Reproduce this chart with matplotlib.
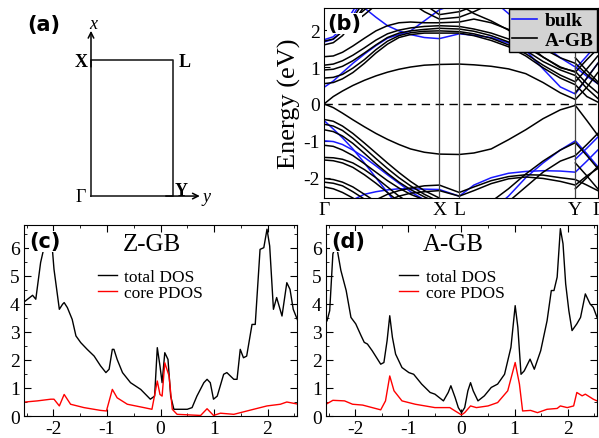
import numpy as np
import matplotlib.pyplot as plt
from matplotlib.lines import Line2D

plt.rcParams['font.family'] = ['Liberation Serif', 'DejaVu Serif']
plt.rcParams['axes.unicode_minus'] = False

# ---------------- band structure along G-X-L-Y-G ----------------
k_nodes = [0, 0.08, 0.16, 0.25, 0.35, 0.45, 0.55, 0.65, 0.75, 0.87, 1.0,
           1.173, 1.3, 1.45, 1.6, 1.75, 1.9, 2.05, 2.18, 2.28, 2.375]
k_ticks = [0, 1.0, 1.173, 2.18, 2.375]
k_labels = ['Γ', 'X', 'L', 'Y', 'Γ']

N = None
agb_conduction = [
    [0, 0.2, 0.35, 0.5, 0.64, 0.76, 0.86, 0.94, 1.0, 1.05, 1.07, 1.08, 1.06, 1.02, 0.95, 0.82, 0.58, 0.3, 0.12, 0.45, 0.85],
    [0.55, 0.58, 0.68, 0.85, 1.1, 1.38, 1.62, 1.8, 1.88, 1.92, 1.92, 1.92, 1.85, 1.72, 1.55, 1.3, 0.98, 0.7, 0.52, 0.2, 0.05],
    [0.7, 0.72, 0.8, 0.97, 1.2, 1.47, 1.7, 1.85, 1.93, 1.97, 1.98, 1.96, 1.9, 1.78, 1.6, 1.36, 1.05, 0.78, 0.6, 0.95, 1.3],
    [0.92, 0.94, 1.02, 1.17, 1.38, 1.6, 1.8, 1.92, 1.98, 2.02, 2.05, 2.03, 1.97, 1.85, 1.68, 1.45, 1.15, 0.92, 0.77, 0.42, 0.15],
    [1.05, 1.08, 1.17, 1.32, 1.52, 1.73, 1.9, 2.0, 2.06, 2.1, 2.12, 2.1, 2.03, 1.92, 1.76, 1.55, 1.27, 1.0, 0.86, 1.2, 1.5],
    [1.28, 1.3, 1.4, 1.57, 1.78, 1.98, 2.12, 2.2, 2.22, 2.2, 2.2, 2.22, 2.3, 2.2, 2.02, 1.78, 1.5, 1.25, 1.1, 0.8, 0.55],
    [1.6, 1.66, 1.85, 2.2, 2.65, 3.1] + [N] * 15,
    [1.7, 1.76, 1.96, 2.32, 2.8] + [N] * 16,
    [N, N, 2.05, 2.28, 2.55, 2.8] + [N] * 15,
    [N, N, N, 2.18, 2.42, 2.68] + [N] * 15,
    [N] * 8 + [2.75, 2.5, 2.3, 2.35, 2.5, 2.72] + [N] * 7,
    [N] * 9 + [2.7, 2.42, 2.5, 2.65, 2.85] + [N] * 7,
    [N] * 11 + [2.7, 2.45, 2.25, 2.0, 1.65, 1.27, 0.98, 0.88, 0.55, 0.3],
    [N] * 18 + [0.3, 0.7, 1.1],
    [N] * 18 + [1.25, 0.9, 0.6],
]
agb_valence = [
    [0, -0.1, -0.25, -0.43, -0.62, -0.8, -0.96, -1.1, -1.22, -1.31, -1.36, -1.37, -1.33, -1.22, -0.97, -0.7, -0.4, -0.16, -0.04, -0.45, -0.85],
    [-0.42, -0.47, -0.6, -0.8, -1.06, -1.33, -1.6, -1.86, -2.1, -2.35, -2.55] + [N] * 10,
    [-0.55, -0.6, -0.72, -0.93, -1.2, -1.48, -1.75, -2.0, -2.22, -2.45, -2.65] + [N] * 10,
    [-0.7, -0.75, -0.87, -1.07, -1.34, -1.62, -1.88, -2.12, -2.32, -2.52, -2.7] + [N] * 10,
    [-1.12, -1.15, -1.25, -1.4, -1.62, -1.85, -2.08, -2.28, -2.45, -2.6, -2.75] + [N] * 10,
    [-1.45, -1.46, -1.5, -1.6, -1.78, -2.0, -2.25, -2.5, -2.7] + [N] * 12,
    [-1.52, -1.54, -1.6, -1.72, -1.92, -2.15, -2.4, -2.65] + [N] * 13,
    [-2.02, -2.05, -2.12, -2.25, -2.45, -2.65] + [N] * 15,
    [-2.12, -2.15, -2.22, -2.38, -2.58] + [N] * 16,
    [-2.25, -2.3, -2.4, -2.55, -2.75] + [N] * 16,
    [N] * 5 + [-2.6, -2.45, -2.35, -2.28, -2.22, -2.2, -2.4, -2.25, -2.08, -1.97, -1.92, -1.93, -2.0, -2.05, -2.2, -2.35],
    [N] * 6 + [-2.62, -2.5, -2.42, -2.38, -2.35, -2.5, -2.35, -2.16, -2.03, -1.98, -2.02, -2.1, -2.2, -1.95, -1.75],
    [N] * 13 + [-2.65, -2.3, -1.9, -1.55, -1.25, -1.05, -1.4, -1.75],
    [N] * 14 + [-2.65, -2.25, -1.85, -1.55, -1.4, -1.1, -0.8],
    [N] * 18 + [-1.6, -1.95, -2.3],
    [N] * 18 + [-2.3, -2.0, -1.7],
]
bulk_conduction = [
    [0.45, 0.62, 0.85, 1.1, 1.35, 1.58, 1.78, 1.88, 1.98, 2.25, 2.55, 2.75] + [N] * 9,
    [N] * 4 + [2.6, 2.35, 2.12, 1.98, 1.88, 1.8, 1.77, 1.9, 1.86, 1.8, 1.65, 1.45, 0.95, 0.46, 0.27, 0.7, 1.1],
    [N] * 13 + [2.85, 2.45, 2.05, 1.6, 1.25, 1.0, 0.75, 0.55],
    [1.68, 1.75, 1.98, 2.4, 2.9] + [N] * 16,
    [1.74, 1.82, 2.07, 2.52, 3.0] + [N] * 16,
    [N] * 18 + [0.95, 1.3, 1.65],
]
bulk_valence = [
    [-0.45, -0.68, -0.92, -1.22, -1.6, -2.0, -2.4, -2.8] + [N] * 13,
    [-1.0, -1.02, -1.1, -1.25, -1.45, -1.68, -1.92, -2.15, -2.38, -2.6, -2.8] + [N] * 10,
    [N] * 3 + [-2.6, -2.45, -2.38, -2.33, -2.3, -2.3, -2.31, -2.32, -2.5, -2.2, -2.0, -1.88, -1.83, -1.81, -1.82, -1.85, -1.55, -1.25],
    [N] * 13 + [-2.9, -2.5, -2.0, -1.6, -1.25, -1.0, -1.35, -1.7],
    [N] * 18 + [-1.5, -1.2, -0.9],
]

# ---------------- densities of states ----------------
zgb_total_e = [-2.53, -2.39, -2.33, -2.24, -2.17, -2.08, -2.02, -1.99, -1.89, -1.83, -1.8, -1.74, -1.65,
               -1.58, -1.49, -1.37, -1.24, -1.12, -1.02, -0.96, -0.9, -0.87, -0.81, -0.71, -0.56, -0.37,
               -0.19, -0.11, -0.06, -0.01, 0.03, 0.08, 0.14, 0.19, 0.25, 0.5, 0.59, 0.68, 0.81, 0.87, 0.93,
               0.99, 1.06, 1.18, 1.24, 1.37, 1.43, 1.49, 1.55, 1.61, 1.71, 1.77, 1.86, 1.93, 1.99, 2.04,
               2.11, 2.17, 2.27, 2.36, 2.42, 2.48, 2.58]
zgb_total_dos = [4.1, 4.31, 4.17, 5.48, 6.07, 6.19, 5.95, 5.24, 3.81, 3.99, 4.05, 3.87, 3.45,
                 2.86, 2.62, 2.38, 2.14, 1.79, 1.55, 1.67, 2.38, 2.38, 2.02, 1.55, 1.19, 0.95,
                 0.6, 0.71, 2.44, 1.79, 1.19, 2.26, 2.02, 0.71, 0.24, 0.24, 0.3, 0.71, 1.19, 1.31, 1.19,
                 0.6, 0.71, 1.49, 1.55, 1.31, 1.31, 2.38, 2.08, 2.14, 3.27, 3.27, 5.95, 6.01, 6.67, 6.07,
                 3.81, 4.23, 3.57, 4.76, 4.52, 3.81, 3.33]
zgb_core_e = [-2.53, -2.3, -2.05, -1.99, -1.89, -1.8, -1.68, -1.43, -1.12, -1.01, -0.9, -0.81, -0.62,
              -0.31, -0.16, -0.06, -0.01, 0.03, 0.08, 0.16, 0.22, 0.31, 0.75, 0.87, 0.99, 1.12, 1.37,
              1.74, 1.99, 2.24, 2.36, 2.58]
zgb_core_dos = [0.5, 0.54, 0.6, 0.6, 0.36, 0.77, 0.42, 0.3, 0.2, 0.18, 0.95, 0.65, 0.42,
                0.3, 0.24, 1.25, 0.77, 0.71, 1.9, 1.43, 0.24, 0.06, 0.02, 0.26, 0.02, 0.1, 0.06,
                0.24, 0.36, 0.42, 0.5, 0.42]

agb_total_e = [-2.53, -2.48, -2.42, -2.37, -2.33, -2.27, -2.17, -2.08, -1.99, -1.89, -1.83, -1.77, -1.68,
               -1.52, -1.46, -1.4, -1.35, -1.3, -1.24, -1.12, -0.99, -0.9, -0.75, -0.59, -0.5, -0.34,
               -0.25, -0.2, -0.12, -0.06, 0, 0.06, 0.12, 0.17, 0.22, 0.31, 0.43, 0.56, 0.68, 0.81, 0.93,
               1.01, 1.06, 1.12, 1.18, 1.29, 1.37, 1.49, 1.61, 1.69, 1.74, 1.8, 1.86, 1.91, 1.96, 2.02,
               2.08, 2.17, 2.24, 2.33, 2.42, 2.48, 2.55]
agb_total_dos = [3.4, 3.76, 5.79, 6.03, 5.85, 5.2, 4.48, 3.52, 3.29, 2.87, 2.63, 2.57, 2.33,
                 1.85, 1.91, 2.69, 3.58, 2.81, 2.21, 1.73, 1.55, 1.49, 1.14, 0.84, 0.78, 0.54,
                 0.84, 1.08, 0.66, 0.3, 0.12, 0.3, 0.9, 1.19, 0.9, 0.54, 0.72, 1.02, 1.14, 1.49, 2.45,
                 3.94, 3.17, 1.49, 1.61, 2.03, 1.67, 2.33, 3.4, 4.48, 4.48, 4.96, 6.69, 6.15, 4.72, 3.76,
                 3.05, 3.29, 3.52, 4.36, 4.0, 3.88, 3.52]
agb_core_e = [-2.53, -2.42, -2.2, -2.05, -1.86, -1.68, -1.52, -1.43, -1.35, -1.27, -1.12, -0.87, -0.5,
              -0.22, -0.12, 0, 0.06, 0.17, 0.28, 0.5, 0.68, 0.87, 1.01, 1.09, 1.15, 1.3, 1.43, 1.61,
              1.8, 1.86, 1.99, 2.11, 2.17, 2.27, 2.33, 2.48, 2.55]
agb_core_dos = [0.44, 0.56, 0.54, 0.42, 0.39, 0.3, 0.22, 0.54, 1.43, 0.9, 0.54, 0.42, 0.3,
                0.3, 0.18, 0.04, 0.12, 0.36, 0.3, 0.36, 0.48, 0.9, 1.91, 1.14, 0.18, 0.2, 0.12, 0.24,
                0.27, 0.36, 0.3, 0.36, 0.84, 0.72, 0.78, 0.6, 0.54]

# Brillouin zone corners (k_y horizontal, k_x vertical)
bz_ky = [0, 0.6, 0.6, 0, 0]
bz_kx = [0, 0, 1, 1, 0]

fig = plt.figure(figsize=(5.99, 4.39), dpi=100)
tag_font = dict(family='DejaVu Sans', weight='bold', fontsize=15)

# ---- (a) Brillouin zone sketch ----
ax_a = fig.add_axes([0.0, 0.5, 0.5, 0.5])
ax_a.set_xlim(-0.669, 1.533)
ax_a.set_ylim(-0.165, 1.449)
ax_a.axis('off')
ax_a.plot(bz_ky, bz_kx, color='#222222', lw=1.2)
ax_a.annotate('', xy=(0, 1.215), xytext=(0, 0.95),
              arrowprops=dict(arrowstyle='->', lw=1.1, color='black', shrinkA=0, shrinkB=0))
ax_a.annotate('', xy=(0.80, 0), xytext=(0.55, 0),
              arrowprops=dict(arrowstyle='->', lw=1.1, color='black', shrinkA=0, shrinkB=0))
ax_a.text(0.02, 1.27, 'x', style='italic', fontsize=13, ha='center', va='center')
ax_a.text(0.85, -0.005, 'y', style='italic', fontsize=13, ha='center', va='center')
ax_a.text(-0.07, 0.99, 'X', weight='bold', fontsize=13, ha='center', va='center')
ax_a.text(0.69, 0.99, 'L', weight='bold', fontsize=13, ha='center', va='center')
ax_a.text(-0.075, 0.0, 'Γ', fontsize=13, ha='center', va='center')
ax_a.text(0.665, 0.04, 'Y', weight='bold', fontsize=13, ha='center', va='center')
ax_a.text(-0.47, 1.265, '(a)', ha='left', va='center', **tag_font)

# ---- (b) band structure ----
ax_b = fig.add_axes([0.541, 0.5467, 0.457, 0.4328])
for band in bulk_conduction + bulk_valence:
    ax_b.plot(k_nodes, np.array(band, dtype=float), color='#1a1aff', lw=1.1)
for band in agb_conduction + agb_valence:
    ax_b.plot(k_nodes, np.array(band, dtype=float), color='black', lw=1.1)
ax_b.axhline(0, color='black', lw=1.0, ls=(0, (6, 4)))
for k in k_ticks[1:-1]:
    ax_b.axvline(k, color='#444444', lw=0.9)
ax_b.set_xlim(k_ticks[0], k_ticks[-1])
ax_b.set_ylim(-2.55, 2.6)
ax_b.set_xticks(k_ticks, k_labels)
ax_b.set_yticks([-2, -1, 0, 1, 2])
ax_b.tick_params(axis='x', length=0, labelsize=14, pad=2)
ax_b.tick_params(axis='y', direction='in', length=4, labelsize=14, pad=3)
ax_b.set_ylabel('Energy (eV)', fontsize=19, labelpad=2)
ax_b.text(0.012, 0.92, '(b)', transform=ax_b.transAxes, ha='left', va='center',
          bbox=dict(fc='white', ec='none', pad=0.5), **tag_font)
handles = [Line2D([], [], color='#1a1aff', lw=1.2), Line2D([], [], color='black', lw=1.2)]
leg = ax_b.legend(handles, ['bulk', 'A-GB'], loc='upper right', borderaxespad=0.05,
                  fancybox=False, facecolor='#d3d3d3', edgecolor='black', framealpha=1,
                  handlelength=1.3, handletextpad=0.4, borderpad=0.15, labelspacing=0.1,
                  prop=dict(family='Liberation Serif', weight='bold', size=14))
leg.get_frame().set_linewidth(1.0)


# ---- (c), (d) densities of states ----
def draw_dos(ax, e_tot, d_tot, e_core, d_core, name, tag):
    ax.plot(e_tot, d_tot, color='black', lw=1.0, label='total DOS')
    ax.plot(e_core, d_core, color='red', lw=1.0, label='core PDOS')
    ax.set_xlim(-2.55, 2.55)
    ax.set_ylim(0, 6.82)
    ax.set_xticks([-2, -1, 0, 1, 2])
    ax.set_yticks([0, 1, 2, 3, 4, 5, 6])
    ax.set_xticks(np.arange(-2.5, 2.6, 0.5), minor=True)
    ax.set_yticks(np.arange(0, 6.8, 0.5), minor=True)
    ax.tick_params(which='both', direction='in', top=True, right=True, labelsize=14)
    ax.tick_params(which='major', length=5, pad=3)
    ax.tick_params(which='minor', length=2.5)
    ax.text(0.47, 0.9, name, transform=ax.transAxes, ha='center', va='center', fontsize=18)
    ax.text(0.018, 0.915, tag, transform=ax.transAxes, ha='left', va='center',
            bbox=dict(fc='white', ec='none', pad=0.3), **tag_font)
    ax.legend(loc='upper left', bbox_to_anchor=(0.225, 0.835), frameon=False, fontsize=12.5,
              handlelength=1.1, handletextpad=0.45, labelspacing=0.0, borderpad=0.2)


ax_c = fig.add_axes([0.0401, 0.0501, 0.4557, 0.4351])
draw_dos(ax_c, zgb_total_e, zgb_total_dos, zgb_core_e, zgb_core_dos, 'Z-GB', '(c)')
ax_d = fig.add_axes([0.5442, 0.0501, 0.4525, 0.4351])
draw_dos(ax_d, agb_total_e, agb_total_dos, agb_core_e, agb_core_dos, 'A-GB', '(d)')

fig.savefig('out.png', dpi=100)
